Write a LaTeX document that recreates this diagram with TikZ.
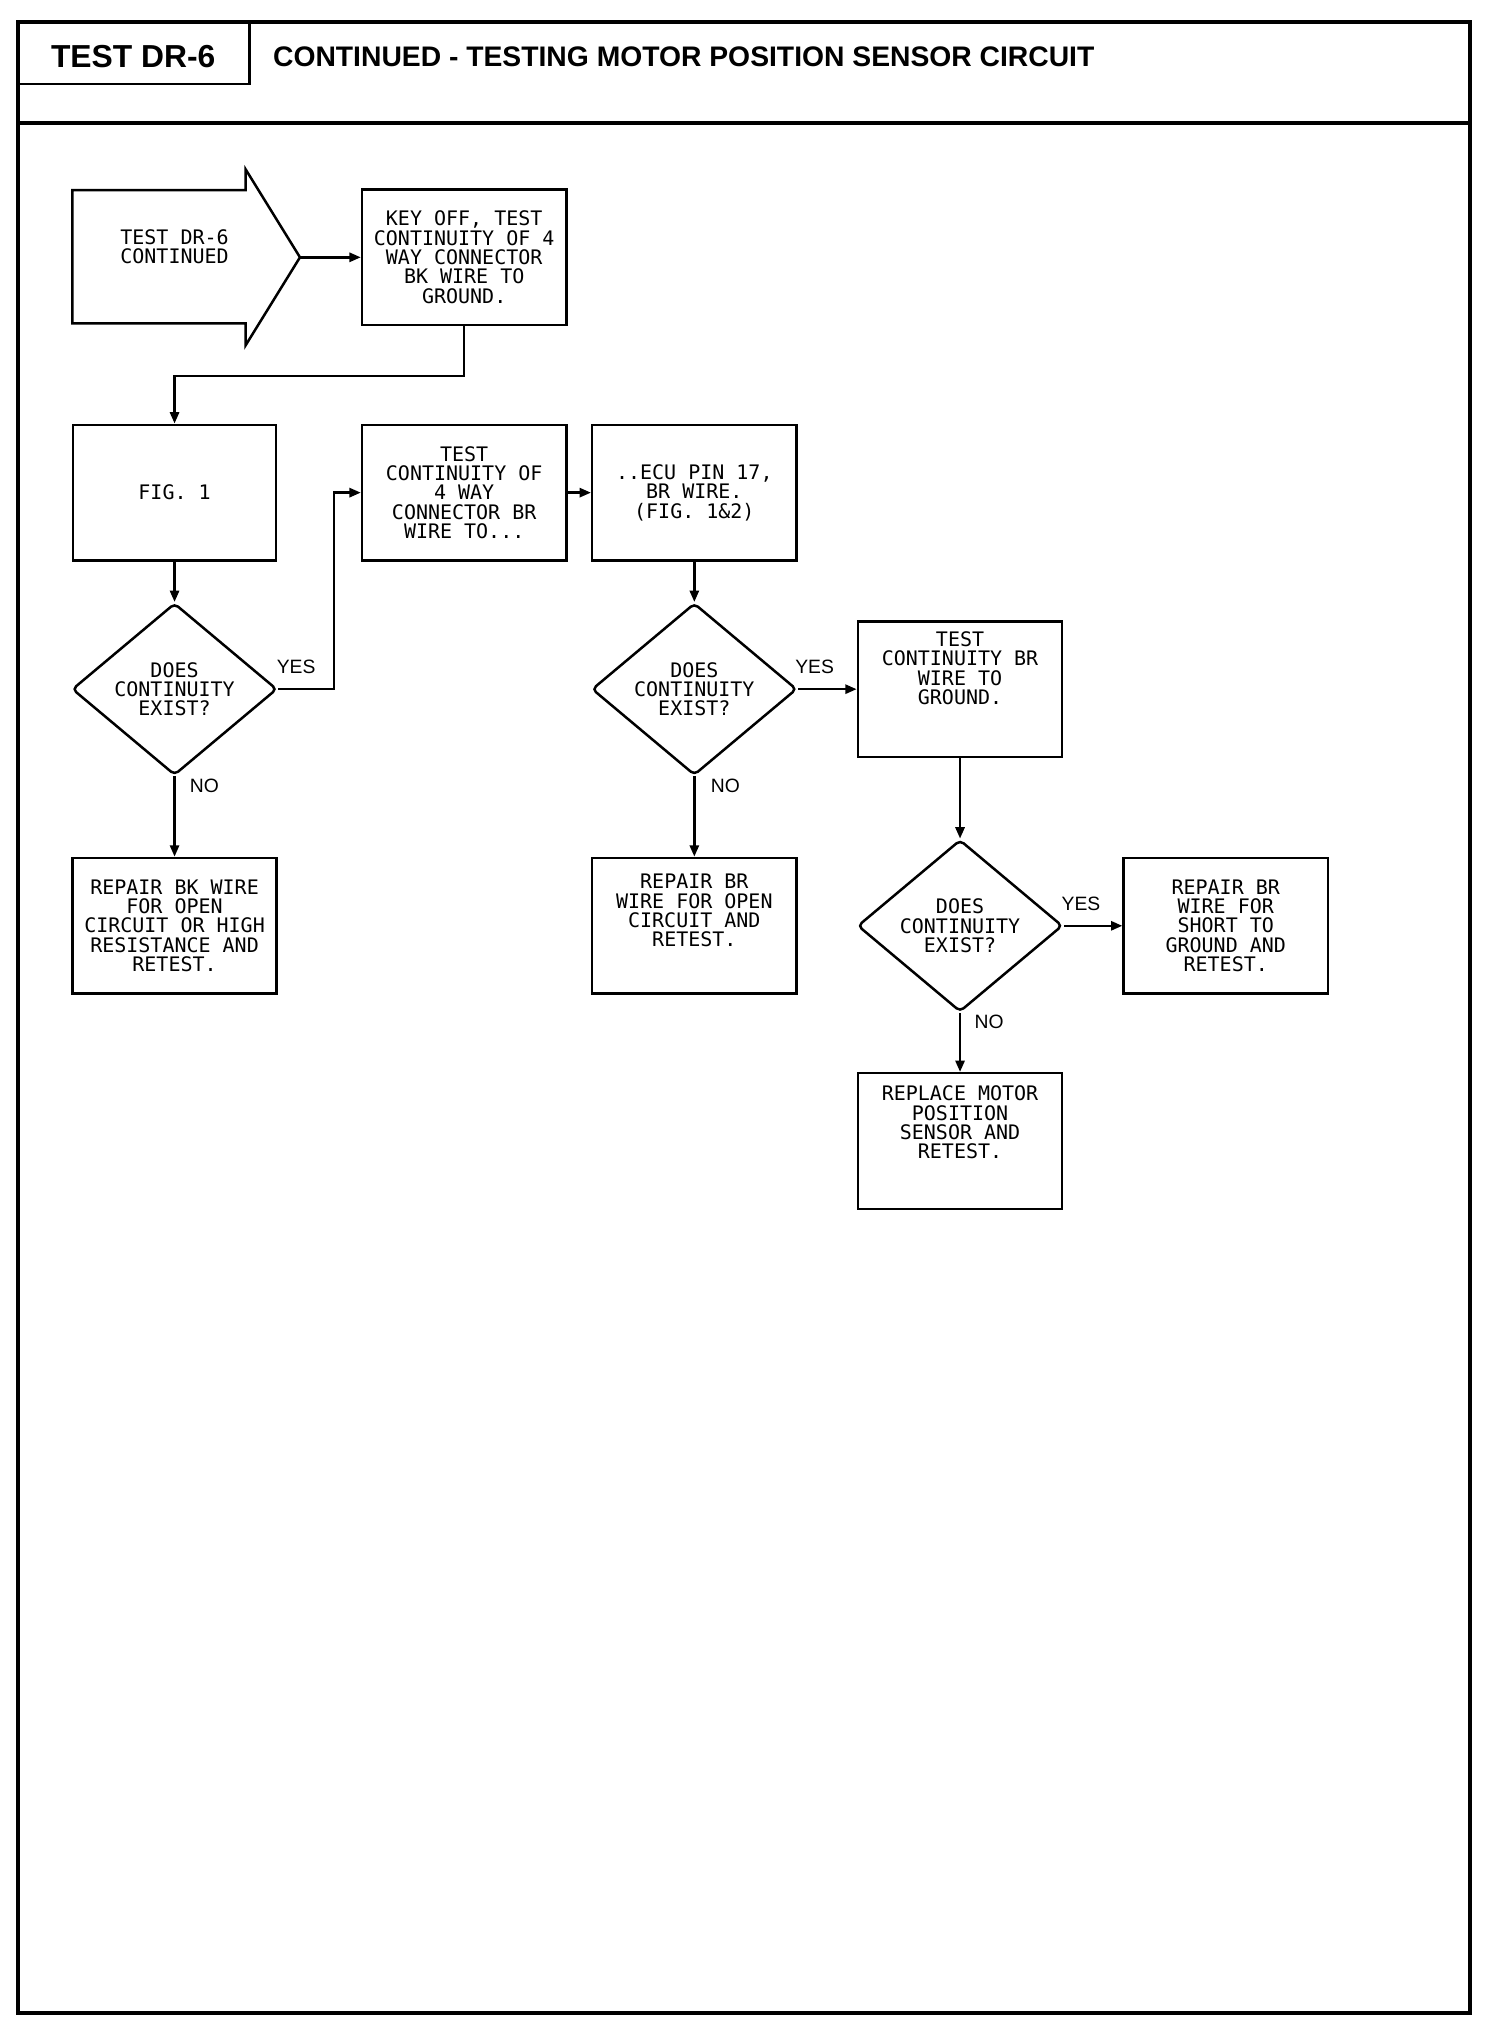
\documentclass[tikz,border=0pt]{standalone}
\usepackage{fontspec}
\setmainfont{Liberation Sans}
\newfontfamily\monofnt{DejaVu Sans Mono}
\usetikzlibrary{arrows.meta,shapes.geometric}
\newcommand\boxfont{\monofnt\fontsize{8.8}{8.5}\selectfont}
\begin{document}
\begin{tikzpicture}[x=0.02cm,y=-0.02cm,
  frame/.style={line width=1.7pt},
  box/.style={draw, line width=1.1pt, minimum width=3.16cm, minimum height=2.1cm, inner sep=0pt, align=center, font=\boxfont},
  dia/.style={draw, diamond, line width=1.1pt, inner sep=0pt, rounded corners=2pt, minimum width=3.17cm, minimum height=2.66cm},
  dtext/.style={align=center, font=\boxfont},
  lab/.style={font=\fontsize{8.5}{9}\selectfont},
  arr/.style={line width=1.1pt, -{Triangle[length=5pt,width=4pt]}}]
\fill[white] (0,0) rectangle (1163,1570);
\useasboundingbox (0,0) rectangle (1163,1570);
% header and frame
\draw[frame] (14,17) rectangle (1137,1557);
\draw[frame] (14,95) -- (1137,95);
\draw[line width=1.1pt] (14,65) -- (193,65) -- (193,17);
\node[font=\bfseries\fontsize{14}{16}\selectfont] (hdr) at (103,44) {TEST DR-6};
\node[anchor=west, font=\bfseries\fontsize{12.45}{14}\selectfont] (title) at (205,44) {CONTINUED - TESTING MOTOR POSITION SENSOR CIRCUIT};
% start arrow shape
\draw[line width=1.1pt, line join=miter] (56,147) -- (190,147) -- (190,131) -- (232,199) -- (190,267) -- (190,250) -- (56,250) -- cycle;
\node[dtext] (start) at (135,191) {TEST DR-6\\CONTINUED};
\coordinate (tip) at (232,199);
% boxes
\node[box] (A) at (359,199) {KEY OFF, TEST\\CONTINUITY OF 4\\WAY CONNECTOR\\BK WIRE TO\\GROUND.};
\node[box, minimum width=3.14cm] (F1) at (135,381) {FIG. 1};
\node[box] (B) at (359,381) {TEST\\CONTINUITY OF\\4 WAY\\CONNECTOR BR\\WIRE TO...};
\node[box] (C) at (537,381) {..ECU PIN 17,\\BR WIRE.\\(FIG. 1\&2)};
\node[box] (R1) at (135,716) {REPAIR BK WIRE\\FOR OPEN\\CIRCUIT OR HIGH\\RESISTANCE AND\\RETEST.};
\node[box] (E) at (537,716) {REPAIR BR\\WIRE FOR OPEN\\CIRCUIT AND\\RETEST.\\[5pt]};
\node[box] (D) at (742.5,533) {TEST\\CONTINUITY BR\\WIRE TO\\GROUND.\\[10pt]};
\node[box] (F) at (948,716) {REPAIR BR\\WIRE FOR\\SHORT TO\\GROUND AND\\RETEST.};
\node[box] (G) at (742.5,882.5) {REPLACE MOTOR\\POSITION\\SENSOR AND\\RETEST.\\[8pt]};
% diamonds
\node[dia] (D1) at (135,533) {};
\node[dtext] (t1) at (D1.center) {DOES\\CONTINUITY\\EXIST?};
\node[dia] (D2) at (537,533) {};
\node[dtext] (t2) at (D2.center) {DOES\\CONTINUITY\\EXIST?};
\node[dia] (D3) at (742.5,716) {};
\node[dtext] (t3) at (D3.center) {DOES\\CONTINUITY\\EXIST?};
% labels
\node[lab] (y1) at (229,516) {YES};
\node[lab] (n1) at (158,608) {NO};
\node[lab] (y2) at (630,516) {YES};
\node[lab] (n2) at (561,608) {NO};
\node[lab] (y3) at (836,699) {YES};
\node[lab] (n3) at (765,790) {NO};
% connectors
\draw[arr] (tip) -- (A.west);
\draw[arr] (A.south) -- ++(0,38.5) -| (F1.north);
\draw[arr] (F1.south) -- (D1.north);
\draw[arr] (D1.east) -- ++(43,0) |- (B.west);
\draw[arr] (D1.south) -- (R1.north);
\draw[arr] (B.east) -- (C.west);
\draw[arr] (C.south) -- (D2.north);
\draw[arr] (D2.east) -- (D.west);
\draw[arr] (D2.south) -- (E.north);
\draw[arr] (D.south) -- (D3.north);
\draw[arr] (D3.east) -- (F.west);
\draw[arr] (D3.south) -- (G.north);
\end{tikzpicture}
\end{document}
